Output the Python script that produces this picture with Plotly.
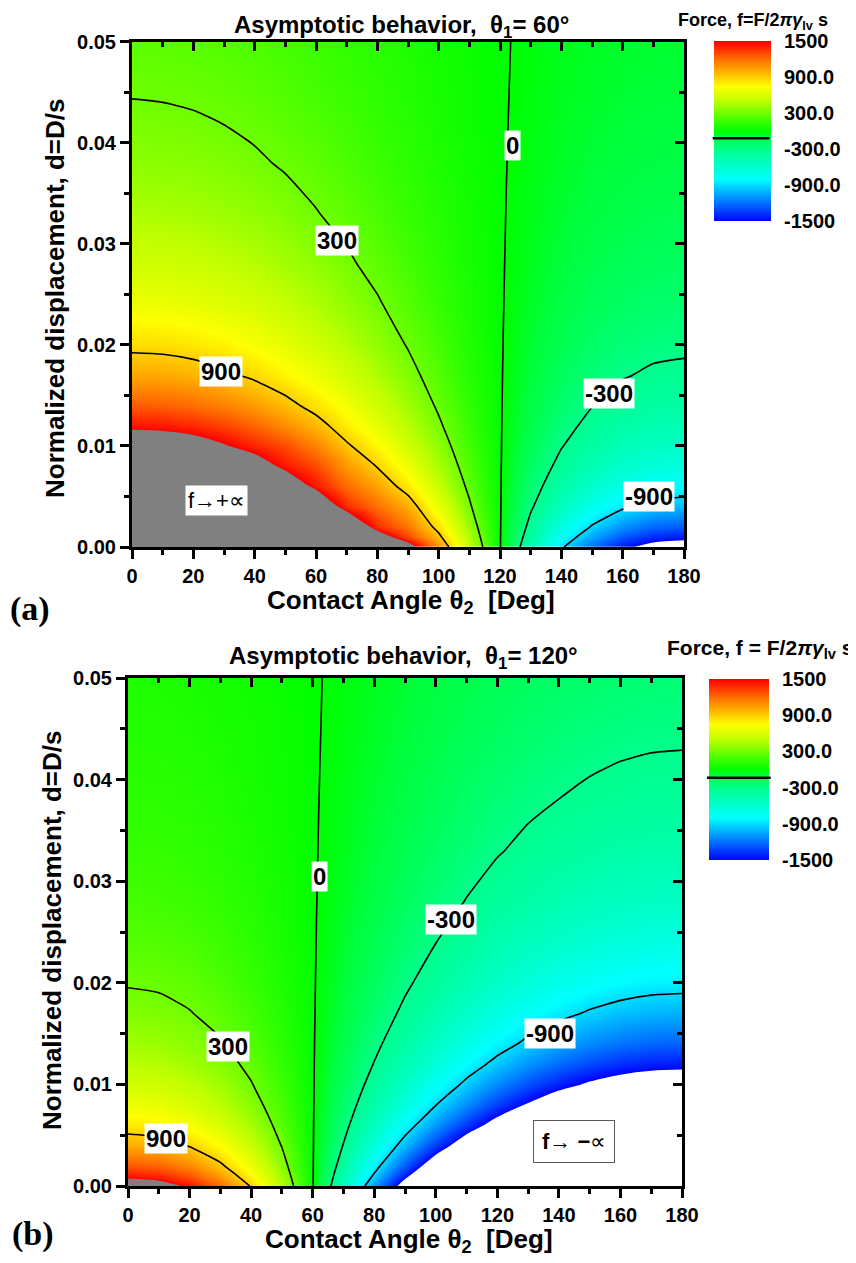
import plotly.graph_objects as go

# ---------------- data ----------------
theta2 = [0, 10, 20, 30, 40, 50, 60, 70, 80, 90, 100, 110, 120, 130, 140, 150, 160, 170, 180]
d_vals = [0.000, 0.001, 0.002, 0.004, 0.006, 0.008, 0.010, 0.012, 0.014, 0.017,
          0.020, 0.024, 0.028, 0.033, 0.038, 0.044, 0.050]

# panel (a): theta1 = 60 deg, force values f (rows follow d_vals, columns follow theta2)
force_a = [
    [4958, 4908, 4759, 4516, 4186, 3779, 3308, 2787, 2231, 1658, 1085, 529, 8, -463, -870, -1200, -1443, -1592, -1642],
    [4317, 4273, 4143, 3932, 3645, 3290, 2650, 2330, 1680, 1300, 945, 461, 8, -402, -756, -1043, -1255, -1385, -1428],
    [3794, 3756, 3642, 3456, 3203, 2892, 2300, 1880, 1380, 1170, 832, 406, 8, -352, -664, -916, -1102, -1216, -1254],
    [3000, 2970, 2880, 2733, 2534, 2150, 1800, 1380, 1200, 1005, 659, 323, 8, -277, -523, -722, -869, -959, -989],
    [2434, 2410, 2337, 2218, 2056, 1720, 1440, 1210, 1040, 817, 536, 263, 8, -223, -422, -584, -703, -776, -801],
    [2016, 1996, 1935, 1837, 1650, 1440, 1300, 1060, 890, 677, 445, 219, 8, -183, -348, -482, -581, -641, -661],
    [1698, 1681, 1630, 1520, 1400, 1295, 1135, 925, 767, 571, 376, 186, 8, -153, -292, -404, -487, -538, -555],
    [1450, 1436, 1392, 1322, 1225, 1107, 970, 805, 656, 489, 322, 160, 8, -129, -248, -344, -415, -458, -473],
    [1253, 1241, 1203, 1142, 1059, 957, 838, 707, 567, 423, 279, 139, 8, -111, -213, -296, -357, -395, -407],
    [1026, 1016, 985, 935, 867, 784, 687, 580, 465, 347, 230, 115, 8, -89, -173, -240, -290, -321, -331],
    [856, 848, 822, 781, 724, 654, 574, 484, 389, 291, 193, 97, 8, -73, -142, -199, -241, -266, -275],
    [689, 682, 661, 628, 582, 527, 462, 390, 314, 235, 156, 80, 8, -57, -113, -158, -192, -212, -219],
    [566, 561, 544, 517, 479, 433, 380, 321, 259, 194, 129, 67, 8, -45, -91, -128, -156, -172, -178],
    [455, 450, 437, 415, 385, 349, 306, 259, 209, 157, 105, 55, 8, -35, -71, -101, -123, -136, -141],
    [374, 370, 359, 341, 317, 287, 252, 213, 172, 130, 88, 47, 8, -27, -57, -81, -99, -110, -114],
    [303, 300, 291, 276, 257, 232, 204, 173, 140, 106, 72, 39, 8, -20, -44, -64, -78, -87, -90],
    [251, 248, 241, 229, 213, 193, 170, 144, 117, 89, 61, 34, 8, -15, -35, -51, -63, -70, -73],
]

# panel (b): theta1 = 120 deg
force_b = [
    [1658, 1608, 1459, 1216, 886, 479, 8, -513, -1069, -1642, -2215, -2771, -3292, -3763, -4170, -4500, -4743, -4892, -4942],
    [1444, 1401, 1271, 1059, 772, 418, 8, -445, -929, -1428, -1927, -2411, -2864, -3274, -3629, -3916, -4127, -4257, -4301],
    [1270, 1232, 1118, 932, 680, 368, 8, -390, -816, -1254, -1692, -2117, -2516, -2876, -3187, -3440, -3626, -3740, -3778],
    [1005, 975, 885, 738, 539, 293, 8, -307, -643, -989, -1336, -1672, -1987, -2272, -2518, -2717, -2864, -2954, -2984],
    [817, 792, 719, 600, 438, 239, 8, -247, -520, -801, -1082, -1354, -1610, -1841, -2040, -2202, -2321, -2394, -2418],
    [677, 657, 597, 498, 364, 199, 8, -203, -429, -661, -894, -1119, -1331, -1522, -1687, -1821, -1919, -1980, -2000],
    [571, 554, 503, 420, 308, 169, 8, -170, -360, -555, -751, -941, -1119, -1279, -1418, -1531, -1614, -1665, -1682],
    [489, 474, 431, 360, 264, 145, 8, -144, -306, -473, -640, -802, -954, -1091, -1209, -1306, -1376, -1420, -1434],
    [423, 411, 373, 312, 229, 127, 8, -123, -263, -407, -551, -691, -822, -941, -1043, -1126, -1187, -1225, -1237],
    [347, 337, 306, 256, 189, 105, 8, -99, -214, -331, -449, -564, -671, -768, -851, -919, -969, -1000, -1010],
    [291, 282, 257, 215, 158, 89, 8, -81, -177, -275, -373, -468, -558, -638, -708, -765, -806, -832, -840],
    [235, 228, 208, 174, 129, 73, 8, -64, -140, -219, -298, -374, -446, -511, -566, -612, -645, -666, -673],
    [194, 188, 172, 144, 107, 61, 8, -51, -113, -178, -243, -305, -364, -417, -463, -501, -528, -545, -550],
    [157, 152, 139, 117, 87, 51, 8, -39, -89, -141, -193, -243, -290, -333, -369, -399, -421, -434, -439],
    [130, 126, 115, 97, 73, 43, 8, -31, -72, -114, -156, -197, -236, -271, -301, -325, -343, -354, -358],
    [106, 103, 94, 80, 60, 36, 8, -23, -56, -90, -124, -157, -188, -216, -241, -260, -275, -284, -287],
    [89, 86, 79, 67, 51, 31, 8, -18, -45, -73, -101, -128, -154, -177, -197, -213, -225, -232, -235],
]

line_levels = [-900, -300, 300, 900]
cbar_y = [-1500, 1500]
cbar_z = [[-1500, -1500], [1500, 1500]]
cbar_tickvals = [1500, 900, 300, -300, -900, -1500]
cbar_ticktext = ["1500", "900.0", "300.0", "-300.0", "-900.0", "-1500"]

# ---------------- styling ----------------
# the page body has an 8 px default margin, so the figure is 8 px smaller
OFF = 8
W, H = 856 - OFF, 1263 - OFF
SANS = "Liberation Sans, Arial, sans-serif"
SERIF = "Liberation Serif, Times New Roman, serif"


def px(x):
    return (x - OFF) / W


def py(y):
    return 1 - (y - OFF) / H


colorscale = [
    [0.0, "rgb(0,0,255)"],
    [0.1, "rgb(0,110,255)"],
    [0.233, "rgb(0,255,255)"],
    [0.4, "rgb(0,255,140)"],
    [0.47, "rgb(0,255,60)"],
    [0.5, "rgb(0,255,0)"],
    [0.55, "rgb(50,255,0)"],
    [0.6, "rgb(110,255,0)"],
    [0.667, "rgb(190,255,0)"],
    [0.75, "rgb(255,255,0)"],
    [0.833, "rgb(255,175,0)"],
    [0.9, "rgb(255,110,0)"],
    [1.0, "rgb(255,0,0)"],
]

fig = go.Figure()

panels = [
    dict(z=force_a, xa="x", ya="y", xt="x3", yr="y3", xc="x5", yc="y5",
         box=(132, 684, 41.7, 547), cb=(714, 771, 41, 221), cbline=(712.7, 769.5, 138.3)),
    dict(z=force_b, xa="x2", ya="y2", xt="x4", yr="y4", xc="x6", yc="y6",
         box=(128, 682, 678, 1186), cb=(709, 769, 679, 860), cbline=(707, 770.7, 777.7)),
]

for p in panels:
    fig.add_trace(go.Contour(
        x=theta2, y=d_vals, z=p["z"], xaxis=p["xa"], yaxis=p["ya"],
        zmin=-1500, zmax=1500, zauto=False, colorscale=colorscale,
        autocontour=False,
        contours=dict(coloring="heatmap", showlines=False, start=-1500, end=1500, size=300),
        line=dict(width=0), hoverinfo="skip", showscale=False,
    ))
    # regions beyond the colour range: f > 1500 grey, f < -1500 white
    for op, val, col in (("<", 1500, "rgb(128,128,128)"), (">", -1500, "rgb(255,255,255)")):
        fig.add_trace(go.Contour(
            x=theta2, y=d_vals, z=p["z"], xaxis=p["xa"], yaxis=p["ya"],
            contours=dict(type="constraint", operation=op, value=val),
            fillcolor=col, line=dict(width=0, color=col, smoothing=1),
            showscale=False, hoverinfo="skip",
        ))
    fig.add_trace(go.Contour(
        x=theta2, y=d_vals, z=p["z"], xaxis=p["xa"], yaxis=p["ya"],
        autocontour=False,
        contours=dict(coloring="none", start=line_levels[0], end=line_levels[-1], size=600),
        line=dict(color="black", width=1.6, smoothing=0.6),
        showscale=False, hoverinfo="skip",
    ))
    fig.add_trace(go.Contour(
        x=theta2, y=d_vals, z=p["z"], xaxis=p["xa"], yaxis=p["ya"],
        contours=dict(type="constraint", operation="=", value=0),
        fillcolor="rgba(0,0,0,0)",
        line=dict(color="black", width=1.6, smoothing=0.6),
        showscale=False, hoverinfo="skip",
    ))
    # dummy traces so that the mirrored (inside-tick) axes are drawn
    fig.add_trace(go.Scatter(x=[], y=[], xaxis=p["xt"], yaxis=p["ya"], showlegend=False))
    fig.add_trace(go.Scatter(x=[], y=[], xaxis=p["xa"], yaxis=p["yr"], showlegend=False))
    # colour bar drawn as its own small heatmap
    fig.add_trace(go.Heatmap(
        x=[0, 1], y=cbar_y, z=cbar_z, xaxis=p["xc"], yaxis=p["yc"],
        zmin=-1500, zmax=1500, zauto=False, colorscale=colorscale, zsmooth="best",
        showscale=False, hoverinfo="skip",
    ))

tickfont = dict(family=SANS, size=20, color="black", weight="bold")


def xaxis_cfg(dom, anchor, overlay=None, side="bottom", inside=False):
    c = dict(domain=dom, anchor=anchor, range=[0, 180], tick0=0, dtick=20,
             ticks="inside" if inside else "outside", ticklen=9, tickwidth=2.5, tickcolor="black",
             minor=dict(dtick=10, tick0=0, ticks="inside" if inside else "outside",
                        ticklen=5, tickwidth=2.5, tickcolor="black"),
             showline=True, linewidth=3, linecolor="black", showgrid=False, zeroline=False,
             showticklabels=not inside, tickfont=tickfont, side=side, fixedrange=True,
             automargin=False)
    if overlay:
        c["overlaying"] = overlay
    return c


def yaxis_cfg(dom, anchor, overlay=None, side="left", inside=False):
    c = dict(domain=dom, anchor=anchor, range=[0, 0.05], tick0=0, dtick=0.01, tickformat=".2f",
             ticks="inside" if inside else "outside", ticklen=9, tickwidth=2.5, tickcolor="black",
             minor=dict(dtick=0.005, tick0=0, ticks="inside" if inside else "outside",
                        ticklen=5, tickwidth=2.5, tickcolor="black"),
             showline=True, linewidth=3, linecolor="black", showgrid=False, zeroline=False,
             showticklabels=not inside, tickfont=tickfont, side=side, fixedrange=True,
             automargin=False)
    if overlay:
        c["overlaying"] = overlay
    return c


def cbx_cfg(dom, anchor):
    return dict(domain=dom, anchor=anchor, range=[0, 1], visible=False, fixedrange=True)


def cby_cfg(dom, anchor):
    return dict(domain=dom, anchor=anchor, range=[-1500, 1500], side="right",
                tickvals=cbar_tickvals, ticktext=cbar_ticktext,
                ticks="outside", ticklen=8, tickcolor="rgba(0,0,0,0)",
                showline=False, showgrid=False, zeroline=False, fixedrange=True,
                tickfont=tickfont, automargin=False)


ba = panels[0]["box"]
bb = panels[1]["box"]
ca = panels[0]["cb"]
cb = panels[1]["cb"]

fig.update_layout(
    width=W, height=H, autosize=False,
    margin=dict(l=0, r=0, t=0, b=0, pad=0),
    paper_bgcolor="white", plot_bgcolor="rgba(0,0,0,0)",
    showlegend=False,
    xaxis=xaxis_cfg([px(ba[0]), px(ba[1])], "y"),
    yaxis=yaxis_cfg([py(ba[3]), py(ba[2])], "x"),
    xaxis3=xaxis_cfg([px(ba[0]), px(ba[1])], "y", overlay="x", side="top", inside=True),
    yaxis3=yaxis_cfg([py(ba[3]), py(ba[2])], "x", overlay="y", side="right", inside=True),
    xaxis2=xaxis_cfg([px(bb[0]), px(bb[1])], "y2"),
    yaxis2=yaxis_cfg([py(bb[3]), py(bb[2])], "x2"),
    xaxis4=xaxis_cfg([px(bb[0]), px(bb[1])], "y2", overlay="x2", side="top", inside=True),
    yaxis4=yaxis_cfg([py(bb[3]), py(bb[2])], "x2", overlay="y2", side="right", inside=True),
    xaxis5=cbx_cfg([px(ca[0]), px(ca[1])], "y5"),
    yaxis5=cby_cfg([py(ca[3]), py(ca[2])], "x5"),
    xaxis6=cbx_cfg([px(cb[0]), px(cb[1])], "y6"),
    yaxis6=cby_cfg([py(cb[3]), py(cb[2])], "x6"),
)

ann = []


def text_ann(x, y, text, size, family=SANS, bold=True, xanchor="center", yanchor="middle",
             angle=0, **kw):
    d = dict(x=px(x), y=py(y), xref="paper", yref="paper", text=text, showarrow=False,
             xanchor=xanchor, yanchor=yanchor, textangle=angle,
             font=dict(family=family, size=size, color="black", weight="bold" if bold else "normal"))
    d.update(kw)
    ann.append(d)


# titles
text_ann(401, 9, "Asymptotic behavior,  θ<sub>1</sub>= 60°", 24, yanchor="top")
text_ann(403, 657, "Asymptotic behavior,  θ<sub>1</sub>= 120°", 24)
text_ann(676, 8.5, "Force, f=F/2<i>πγ</i><sub>lv</sub> s", 18, xanchor="left", yanchor="top")
text_ann(665, 649, "Force, f = F/2<i>πγ</i><sub>lv</sub> s", 21, xanchor="left")

# axis titles
text_ann(411, 601, "Contact Angle θ<sub>2</sub>  [Deg]", 26)
text_ann(409, 1240, "Contact Angle θ<sub>2</sub>  [Deg]", 26)
text_ann(55, 298, "Normalized displacement, d=D/s", 26, angle=-90)
text_ann(52, 930, "Normalized displacement, d=D/s", 26, angle=-90)

# panel letters
text_ann(30, 609, "(a)", 34, family=SERIF)
text_ann(33, 1234, "(b)", 34, family=SERIF)

# contour labels (data coordinates)
lab_font = dict(family=SANS, size=24, color="black", weight="bold")
labels_a = [("300", 66.8, 0.0303), ("900", 29.0, 0.0174), ("0", 124.2, 0.0397),
            ("-300", 155.5, 0.01515), ("-900", 168.6, 0.00495)]
labels_b = [("0", 62.1, 0.0305), ("-300", 105.0, 0.0262), ("300", 32.5, 0.0137),
            ("900", 12.3, 0.0047), ("-900", 137.0, 0.0150)]
for t, x, y in labels_a:
    ann.append(dict(x=x, y=y, xref="x", yref="y", text=t, showarrow=False, bgcolor="white",
                    borderpad=1, font=lab_font))
for t, x, y in labels_b:
    ann.append(dict(x=x, y=y, xref="x2", yref="y2", text=t, showarrow=False, bgcolor="white",
                    borderpad=1, font=lab_font))

ann.append(dict(x=27.6, y=0.0046, xref="x", yref="y", text="f→+∝", showarrow=False,
                bgcolor="white", borderpad=2,
                font=dict(family=SANS, size=22, color="black")))
ann.append(dict(x=144.9, y=0.0044, xref="x2", yref="y2", text="<b>f</b>→ <b>−</b>∝", showarrow=False,
                bgcolor="white", bordercolor="rgb(90,90,90)", borderwidth=1, borderpad=8,
                font=dict(family=SANS, size=22, color="black")))

fig.update_layout(annotations=ann)

# colour-bar level line
shapes = []
for p in panels:
    x0, x1, yl = p["cbline"]
    shapes.append(dict(type="line", xref="paper", yref="paper", x0=px(x0), x1=px(x1),
                       y0=py(yl), y1=py(yl), line=dict(color="black", width=2.5)))
fig.update_layout(shapes=shapes)

fig.write_html("out.html")
